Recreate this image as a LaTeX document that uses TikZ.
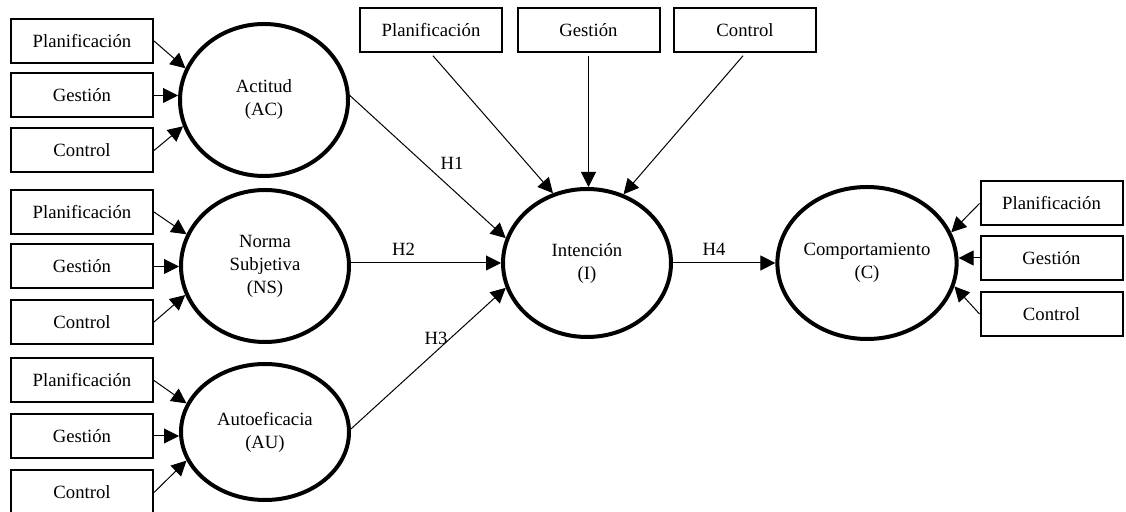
\documentclass[tikz,border=0pt]{standalone}
\usepackage{fontspec}
\setmainfont{Liberation Serif}
\usetikzlibrary{shapes.geometric,arrows.meta}

\begin{document}
\begin{tikzpicture}
[
    x=0.5pt, y=-0.5pt,
    every node/.style={font=\fontsize{9.35}{11.5}\selectfont},
    box/.style={draw, line width=1pt, minimum width=71pt, minimum height=22pt, inner sep=0pt},
    var/.style={draw, ellipse, line width=2pt, minimum width=84pt, minimum height=76pt, inner sep=0pt, align=center},
    arr/.style={-{Triangle[length=7.5pt,width=7.5pt]}, line width=0.5pt},
]
\useasboundingbox (0,0) rectangle (1126,512);
\node [var] (ac) at (264,100) {Actitud\\(AC)};
\node [var] (ns) at (265,266) {Norma\\Subjetiva\\(NS)};
\node [var, minimum height=68pt] (au) at (265,432) {Autoeficacia\\(AU)};
\node [var, minimum height=74pt] (i) at (587,263) {Intención\\(I)};
\node [var] (c) at (867,263) {Comportamiento\\(C)};

\node [box] (p1) at (82,41) {Planificación};
\node [box] (g1) at (82,95.5) {Gestión};
\node [box] (c1) at (82,150.5) {Control};
\node [box] (p2) at (82,212) {Planificación};
\node [box] (g2) at (82,266.5) {Gestión};
\node [box] (c2) at (82,322) {Control};
\node [box] (p3) at (82,380.5) {Planificación};
\node [box] (g3) at (82,436) {Gestión};
\node [box] (c3) at (82,492.5) {Control};
\node [box] (tp) at (431,30.5) {Planificación};
\node [box] (tg) at (588.5,30.5) {Gestión};
\node [box] (tc) at (745,30.5) {Control};
\node [box] (rp) at (1051.5,203.5) {Planificación};
\node [box] (rg) at (1051.5,258) {Gestión};
\node [box] (rc) at (1051.5,314) {Control};

\draw [arr] (p1.east) -- (ac.158);
\draw [arr] (g1.east) -- (g1.east -| ac.west);
\draw [arr] (c1.east) -- (ac.198);
\draw [arr] (p2.east) -- (ns.158);
\draw [arr] (g2.east) -- (g2.east -| ns.west);
\draw [arr] (c2.east) -- (ns.200);
\draw [arr] (p3.east) -- (au.160);
\draw [arr] (g3.east) -- (g3.east -| au.west);
\draw [arr] (c3.east) -- (au.200);

\draw [arr, shorten <=1.5pt] (tp.south) -- (i.116);
\draw [arr, shorten <=1.5pt] (tg.south) -- (tg.south |- i.north);
\draw [arr, shorten <=1.5pt] (tc.south) -- (i.62);

\draw [arr] (ac.3) -- node[pos=0.656, above=6pt] {H1} (i.163);
\draw [arr] (ns.east |- i.west) -- node[pos=0.35, above] {H2} (i.west);
\draw [arr] (au.2) -- node[pos=0.55, above] {H3} (i.197);
\draw [arr] (i.east) -- node[pos=0.4, above] {H4} (c.west);

\draw [arr] (rp.west) -- (c.20);
\draw [arr] (rg.west) -- (rg.west -| c.east);
\draw [arr] (rc.west) -- (c.-15);
\end{tikzpicture}
\end{document}
